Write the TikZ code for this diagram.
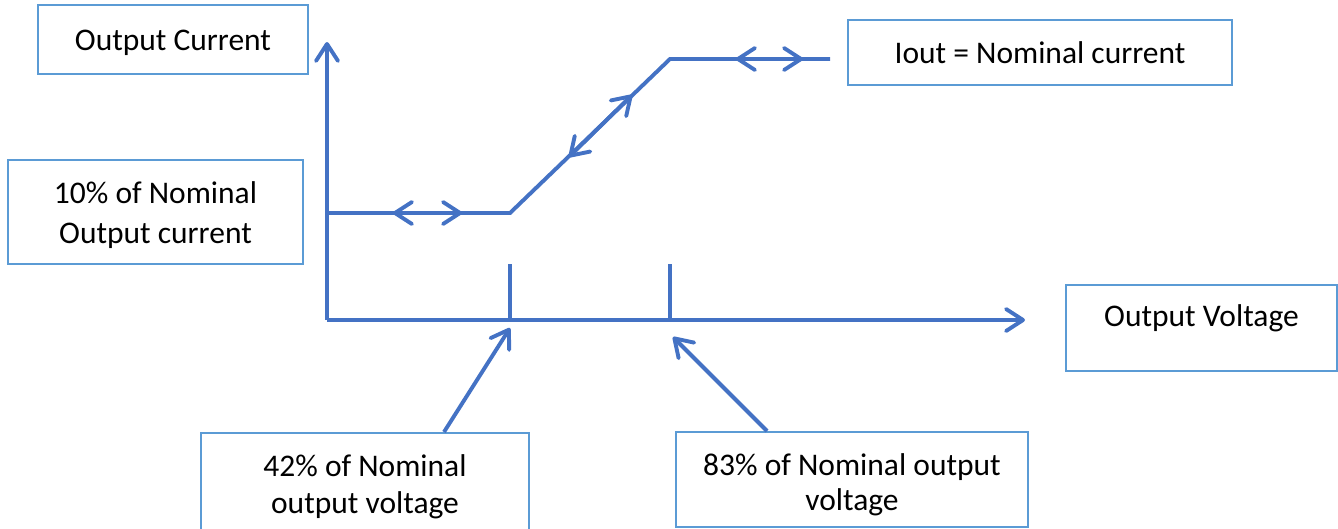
\documentclass[tikz,border=0pt]{standalone}
\usepackage{fontspec}
\setmainfont{Carlito}
\usetikzlibrary{arrows.meta}
\definecolor{lineblue}{HTML}{4472C4}
\definecolor{boxblue}{HTML}{5B9BD5}
\newcommand\dnshift[2]{\raisebox{-#1}[\height][\depth]{\begin{tabular}{@{}c@{}}#2\end{tabular}}}
\begin{document}
\begin{tikzpicture}[x=1pt,y=-1pt,
  box/.style={draw=boxblue,line width=2pt,rectangle,align=center,inner sep=0pt,
    font=\fontsize{31.5}{38}\selectfont,text=black},
  curve/.style={draw=lineblue,line width=3.9pt,line join=miter},
  dbl/.style={curve,{Straight Barb[length=17pt,width=22pt,round]}-{Straight Barb[length=17pt,width=22pt,round]}},
  one/.style={curve,-{Straight Barb[length=17pt,width=22pt,round]}}]
\useasboundingbox (0,0) rectangle (1338,528);
% boxes
\node[box,minimum width=270pt,minimum height=69pt] (oc) at (173,39.5) {\dnshift{3pt}{Output Current}};
\node[box,minimum width=384pt,minimum height=65pt] (io) at (1040,52.5) {Iout = Nominal current};
\node[box,minimum width=295pt,minimum height=104pt,font=\fontsize{31.5}{40}\selectfont] (ten) at (155.5,212) {\dnshift{3pt}{10\% of Nominal\\Output current}};
\node[box,minimum width=271pt,minimum height=86pt,text depth=24pt] (ov) at (1201.5,328) {Output Voltage};
\node[box,minimum width=328pt,minimum height=106pt,font=\fontsize{31.5}{37}\selectfont] (b42) at (365,486) {\dnshift{2pt}{42\% of Nominal\\output voltage}};
\node[box,minimum width=352pt,minimum height=95pt,font=\fontsize{31.5}{35}\selectfont] (b83) at (852,479.5) {\dnshift{6pt}{83\% of Nominal output\\voltage}};
% axes
\coordinate (O) at (327,320);
\coordinate (ytop) at (327,42);
\coordinate (xend) at (1025,320);
\draw[one] (O) -- (ytop);
\draw[one] (O) -- (xend);
% ticks
\coordinate (t1a) at (510,264);
\coordinate (t1b) at (510,320);
\coordinate (t2a) at (670,264);
\coordinate (t2b) at (670,320);
\draw[curve] (t1a) -- (t1b);
\draw[curve] (t2a) -- (t2b);
% characteristic
\coordinate (c0) at (327,213);
\coordinate (c1) at (510,213);
\coordinate (c2) at (670,59);
\coordinate (c3) at (830,59);
\draw[curve] (c0) -- (c1) -- (c2) -- (c3);
% double arrows
\coordinate (a1) at (393,213);
\coordinate (a2) at (462,213);
\coordinate (a3) at (569,157);
\coordinate (a4) at (632,95);
\coordinate (a5) at (736,59);
\coordinate (a6) at (803,59);
\draw[dbl] (a1) -- (a2);
\draw[dbl] (a3) -- (a4);
\draw[dbl] (a5) -- (a6);
% pointers
\coordinate (p1) at (510,328);
\coordinate (p2) at (673,337);
\draw[one] ([xshift=79pt]b42.north) -- (p1);
\draw[one] ([xshift=-85pt]b83.north) -- (p2);
\end{tikzpicture}
\end{document}
